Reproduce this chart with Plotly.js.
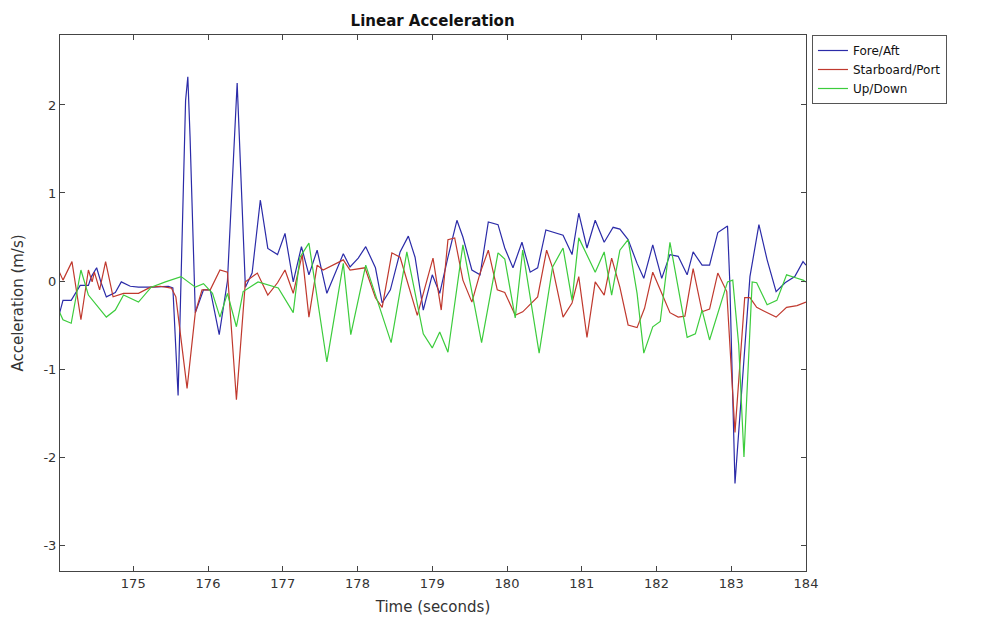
<!DOCTYPE html>
<html>
<head>
<meta charset="utf-8">
<script src="https://cdn.plot.ly/plotly-3.0.1.min.js"></script>
<style>html,body{margin:0;padding:0;background:#fff;}#chart{width:1006px;height:619px;}</style>
</head>
<body>
<div id="chart"></div>
<script>
// Fore/Aft
const tFore = [174.00,174.06,174.17,174.29,174.40,174.44,174.51,174.57,174.64,174.76,174.84,174.96,175.07,175.24,175.47,175.53,175.60,175.70,175.73,175.76,175.83,175.94,176.03,176.15,176.26,176.39,176.50,176.59,176.70,176.80,176.93,177.03,177.14,177.25,177.35,177.46,177.59,177.81,177.90,178.01,178.11,178.24,178.33,178.44,178.57,178.68,178.77,178.88,179.00,179.10,179.21,179.33,179.41,179.53,179.64,179.75,179.88,179.97,180.08,180.20,180.31,180.41,180.52,180.64,180.75,180.87,180.96,181.07,181.18,181.30,181.42,181.51,181.62,181.74,181.83,181.95,182.07,182.18,182.29,182.41,182.49,182.61,182.71,182.82,182.95,182.98,183.05,183.25,183.37,183.48,183.60,183.72,183.85,183.96,184.00];
const foreAft = [-0.41,-0.22,-0.22,-0.05,-0.05,0.05,0.15,-0.02,-0.18,-0.13,-0.01,-0.06,-0.07,-0.07,-0.06,-0.08,-1.30,2.05,2.32,1.64,-0.36,-0.10,-0.10,-0.61,0.00,2.25,-0.07,0.09,0.92,0.37,0.30,0.54,-0.01,0.39,0.07,0.35,-0.14,0.31,0.16,0.26,0.39,0.15,-0.25,-0.10,0.33,0.51,0.27,-0.33,0.07,-0.14,0.27,0.69,0.50,0.125,0.07,0.67,0.64,0.375,0.15,0.44,0.10,0.15,0.58,0.55,0.52,0.30,0.77,0.375,0.69,0.44,0.61,0.59,0.47,0.20,0.03,0.41,0.03,0.30,0.28,0.07,0.33,0.18,0.18,0.55,0.625,0.0,-2.30,0.05,0.64,0.24,-0.12,-0.02,0.05,0.22,0.18];

// Starboard/Port
const tStar = [174.00,174.06,174.18,174.30,174.40,174.45,174.48,174.55,174.63,174.73,174.87,175.07,175.23,175.36,175.51,175.57,175.72,175.83,175.92,176.03,176.16,176.26,176.38,176.50,176.66,176.80,176.93,177.03,177.14,177.26,177.35,177.46,177.54,177.81,177.90,178.10,178.24,178.33,178.46,178.57,178.80,179.01,179.12,179.21,179.30,179.41,179.53,179.64,179.75,179.87,179.97,180.11,180.21,180.41,180.53,180.61,180.75,180.87,180.96,181.07,181.18,181.30,181.40,181.51,181.62,181.74,181.84,181.95,182.06,182.18,182.29,182.38,182.49,182.61,182.71,182.82,182.94,183.05,183.18,183.25,183.34,183.48,183.60,183.74,183.88,184.00];
const starPort = [0.125,0.01,0.22,-0.44,0.125,-0.01,0.10,-0.10,0.22,-0.18,-0.14,-0.14,-0.07,-0.06,-0.08,-0.18,-1.22,-0.36,-0.10,-0.10,0.125,0.10,-1.35,-0.01,0.09,-0.16,-0.02,0.125,-0.14,0.30,-0.41,0.18,0.125,0.24,0.125,0.15,-0.19,-0.30,0.32,0.27,-0.39,0.26,-0.33,0.47,0.49,0.01,-0.24,0.09,0.35,-0.10,-0.13,-0.39,-0.35,-0.18,0.35,0.15,-0.41,-0.25,0.05,-0.64,-0.01,-0.16,0.26,-0.07,-0.50,-0.53,-0.31,0.10,-0.12,-0.36,-0.41,-0.40,0.14,-0.35,-0.32,0.09,-0.12,-1.72,-0.19,-0.19,-0.30,-0.36,-0.41,-0.30,-0.28,-0.24];

// Up/Down
const tUp = [174.00,174.06,174.17,174.30,174.40,174.53,174.64,174.76,174.87,175.07,175.24,175.43,175.64,175.83,175.94,176.06,176.16,176.26,176.38,176.47,176.67,176.94,177.14,177.23,177.35,177.59,177.81,177.91,178.11,178.45,178.66,178.88,179.00,179.10,179.21,179.41,179.66,179.88,179.97,180.11,180.21,180.43,180.61,180.75,180.87,180.96,181.18,181.30,181.40,181.51,181.62,181.74,181.83,181.95,182.05,182.18,182.41,182.52,182.61,182.71,182.95,183.02,183.10,183.17,183.28,183.34,183.48,183.61,183.74,183.85,183.96,184.00];
const upDown = [-0.33,-0.44,-0.48,0.125,-0.16,-0.30,-0.41,-0.33,-0.16,-0.24,-0.07,-0.01,0.05,-0.07,-0.03,-0.14,-0.41,-0.14,-0.52,-0.12,-0.01,-0.08,-0.36,0.27,0.43,-0.92,0.20,-0.61,0.18,-0.70,0.33,-0.60,-0.76,-0.58,-0.81,0.41,-0.70,0.32,0.25,-0.42,0.35,-0.82,0.16,0.375,-0.22,0.49,0.10,0.33,-0.16,0.35,0.47,-0.14,-0.82,-0.52,-0.46,0.44,-0.64,-0.60,-0.33,-0.67,-0.01,0.01,-0.73,-2.00,-0.01,-0.02,-0.27,-0.22,0.07,0.04,0.01,-0.01];

const xTicks = [175,176,177,178,179,180,181,182,183,184];
const yTicks = [-3,-2,-1,0,1,2];
const yTickText = ['-3','-2','-1','0','1','2'];

const traces = [
  {x: tFore, y: foreAft, name: 'Fore/Aft', type: 'scatter', mode: 'lines', line: {color: '#2b2ba8', width: 1.2}},
  {x: tStar, y: starPort, name: 'Starboard/Port', type: 'scatter', mode: 'lines', line: {color: '#c0392e', width: 1.2}},
  {x: tUp, y: upDown, name: 'Up/Down', type: 'scatter', mode: 'lines', line: {color: '#3ccc3c', width: 1.2}}
];

const axisFont = {family: 'DejaVu Sans, sans-serif', size: 13, color: '#333'};
const layout = {
  width: 1006, height: 619,
  margin: {l: 60, r: 200, t: 35, b: 48},
  paper_bgcolor: '#fff', plot_bgcolor: '#fff',
  title: {text: '<b>Linear Acceleration</b>', font: {family: 'DejaVu Sans, sans-serif', size: 15, color: '#111'}, x: 0.43, xanchor: 'center', y: 0.975, yanchor: 'top'},
  xaxis: {
    range: [174.02, 184.0], tickvals: xTicks, ticks: 'inside', ticklen: 5, tickcolor: '#444',
    showline: true, linecolor: '#444', linewidth: 1, mirror: 'ticks', showgrid: false, zeroline: false,
    tickfont: axisFont,
    title: {text: 'Time (seconds)', font: {family: 'DejaVu Sans, sans-serif', size: 15, color: '#333'}, standoff: 11}
  },
  yaxis: {
    range: [-3.295, 2.795], tickvals: yTicks, ticktext: yTickText, ticks: 'inside', ticklen: 5, tickcolor: '#444',
    showline: true, linecolor: '#444', linewidth: 1, mirror: 'ticks', showgrid: false, zeroline: false,
    tickfont: axisFont,
    title: {text: 'Acceleration (m/s)', font: {family: 'DejaVu Sans, sans-serif', size: 15, color: '#333'}, standoff: 16}
  },
  legend: {
    x: 1.008, xanchor: 'left', y: 1.0, yanchor: 'top',
    bordercolor: '#555', borderwidth: 1, bgcolor: '#fff',
    font: {family: 'DejaVu Sans, sans-serif', size: 12, color: '#111'},
    tracegroupgap: 0, itemwidth: 30
  },
  showlegend: true
};

Plotly.newPlot('chart', traces, layout, {displayModeBar: false, staticPlot: true});
</script>
</body>
</html>
